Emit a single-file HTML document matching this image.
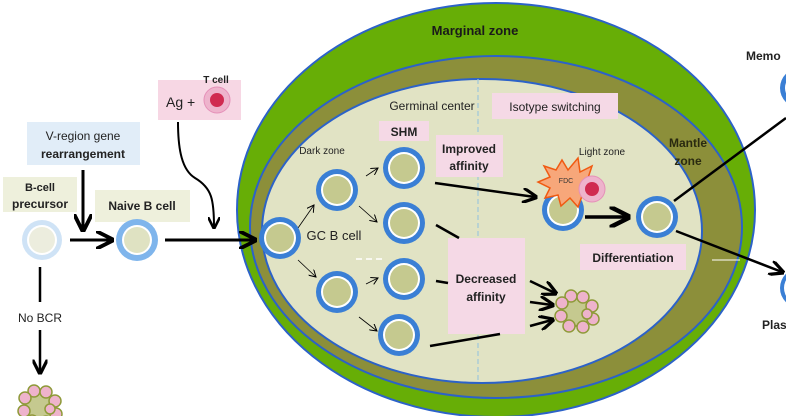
<!DOCTYPE html>
<html><head><meta charset="utf-8"><style>
html,body{margin:0;padding:0;background:#fff;}
svg{display:block;font-family:"Liberation Sans",sans-serif;}
.b{font-weight:bold;}
</style></head><body>
<svg width="786" height="416" viewBox="0 0 786 416" xmlns="http://www.w3.org/2000/svg">
<defs>
<marker id="ah" markerWidth="6" markerHeight="6" refX="5" refY="3" orient="auto" markerUnits="strokeWidth"><path d="M0,0 L6,3 L0,6" fill="none" stroke="#000" stroke-width="1.3"/></marker>
<marker id="as" markerWidth="8" markerHeight="8" refX="7" refY="4" orient="auto" markerUnits="userSpaceOnUse"><path d="M0,0 L7,4 L0,8" fill="none" stroke="#000" stroke-width="1"/></marker>
<g id="cell"><circle r="21" fill="#3a7fd5"/><circle r="16" fill="#fff"/><circle r="14" fill="#c5c98f"/></g>
<g id="blob"><circle r="15" fill="#c5c98f" stroke="#8f9a3a" stroke-width="2"/>
<g fill="#eeb3cc" stroke="#8f9a3a" stroke-width="1.5"><circle cx="-6" cy="-15" r="6"/><circle cx="6" cy="-14" r="6"/><circle cx="15" cy="-5" r="6"/><circle cx="16" cy="8" r="6"/><circle cx="6" cy="16" r="6"/><circle cx="-8" cy="15" r="6"/><circle cx="-16" cy="5" r="6"/><circle cx="-15" cy="-8" r="6"/><circle cx="10" cy="3" r="5"/></g></g>
</defs>
<ellipse cx="496" cy="210" rx="259" ry="207" fill="#67ae06" stroke="#2c62c8" stroke-width="2"/>
<ellipse cx="496" cy="227" rx="246" ry="171" fill="#8c8f3a" stroke="#2c62c8" stroke-width="2"/>
<ellipse cx="482" cy="231" rx="220" ry="152" fill="#e1e3c4" stroke="#2c62c8" stroke-width="2"/>
<line x1="478" y1="79" x2="478" y2="383" stroke="#9ec7db" stroke-width="1.2" stroke-dasharray="5,3"/>
<text x="475" y="35" font-size="13" class="b" text-anchor="middle" fill="#1a1a1a">Marginal zone</text>
<text x="432" y="110" font-size="12" fill="#222" text-anchor="middle">Germinal center</text>
<rect x="492" y="93" width="126" height="26" fill="#f5d9e6"/>
<text x="555" y="111" font-size="12" fill="#222" text-anchor="middle">Isotype switching</text>
<rect x="379" y="121" width="50" height="20" fill="#f5d9e6"/>
<text x="404" y="136" font-size="12" class="b" fill="#222" text-anchor="middle">SHM</text>
<rect x="436" y="135" width="67" height="42" fill="#f5d9e6"/>
<text x="469" y="153" font-size="12" class="b" fill="#222" text-anchor="middle">Improved</text>
<text x="469" y="170" font-size="12" class="b" fill="#222" text-anchor="middle">affinity</text>
<text x="322" y="154" font-size="10" fill="#222" text-anchor="middle">Dark zone</text>
<text x="602" y="155" font-size="10" fill="#222" text-anchor="middle">Light zone</text>
<text x="688" y="147" font-size="12" class="b" fill="#2a2a10" text-anchor="middle">Mantle</text>
<text x="688" y="165" font-size="12" class="b" fill="#2a2a10" text-anchor="middle">zone</text>
<text x="334" y="240" font-size="13" fill="#222" text-anchor="middle">GC B cell</text>
<line x1="356" y1="259" x2="382" y2="259" stroke="#fff" stroke-width="1.5" stroke-dasharray="6,4"/>
<rect x="448" y="238" width="77" height="96" fill="#f5d9e6"/>
<text x="486" y="283" font-size="12" class="b" fill="#222" text-anchor="middle">Decreased</text>
<text x="486" y="301" font-size="12" class="b" fill="#222" text-anchor="middle">affinity</text>
<rect x="580" y="244" width="106" height="26" fill="#f5d9e6"/>
<text x="633" y="262" font-size="12" class="b" fill="#222" text-anchor="middle">Differentiation</text>
<line x1="712" y1="260" x2="740" y2="260" stroke="#fff" stroke-width="1"/>
<g stroke="#000" stroke-width="0.8" marker-end="url(#as)">
<line x1="298" y1="228" x2="314" y2="205"/>
<line x1="359" y1="206" x2="377" y2="222"/>
<line x1="366" y1="176" x2="378" y2="168"/>
<line x1="298" y1="260" x2="316" y2="277"/>
<line x1="366" y1="284" x2="378" y2="278"/>
<line x1="359" y1="317" x2="377" y2="331"/>
</g>
<g stroke="#000" stroke-width="2.5" fill="none">
<line x1="435" y1="183" x2="535" y2="197" marker-end="url(#ah)"/>
<line x1="436" y1="225" x2="459" y2="238"/>
<line x1="436" y1="281" x2="448" y2="283"/>
<line x1="530" y1="281" x2="555" y2="293" marker-end="url(#ah)"/>
<line x1="530" y1="302" x2="552" y2="305" marker-end="url(#ah)"/>
<line x1="530" y1="326" x2="552" y2="320" marker-end="url(#ah)"/>
<line x1="430" y1="346" x2="500" y2="334"/>
<line x1="585" y1="217" x2="627" y2="217" stroke-width="3.5" marker-end="url(#ah)"/>
<line x1="674" y1="201" x2="786" y2="118"/>
<line x1="676" y1="231" x2="782" y2="272" marker-end="url(#ah)"/>
<line x1="165" y1="240" x2="250" y2="240" stroke-width="3"/>
<line x1="70" y1="240" x2="111" y2="240" stroke-width="3" marker-end="url(#ah)"/>
<line x1="83" y1="170" x2="83" y2="229" stroke-width="3" marker-end="url(#ah)"/>
<line x1="40" y1="267" x2="40" y2="302" stroke-width="2.5"/>
<line x1="40" y1="330" x2="40" y2="372" stroke-width="2.5" marker-end="url(#ah)"/>
<path d="M178,122 C178,150 182,170 195,178 C212,188 214,200 214,227" stroke-width="2" marker-end="url(#ah)"/>
<line x1="250" y1="240" x2="254" y2="240" stroke-width="3" marker-end="url(#ah)"/>
</g>
<use href="#cell" x="280" y="238"/>
<use href="#cell" x="337" y="190"/>
<use href="#cell" x="404" y="168"/>
<use href="#cell" x="404" y="223"/>
<use href="#cell" x="337" y="292"/>
<use href="#cell" x="404" y="279"/>
<use href="#cell" x="399" y="335"/>
<use href="#cell" x="657" y="217"/>
<use href="#cell" x="563" y="210"/>
<polygon points="562,160 568,170 578,158 580,172 592,166 588,178 600,182 588,188 594,198 582,196 578,207 570,198 561,206 558,195 545,198 550,188 538,182 550,177 544,166 556,170" fill="#f7a77a" stroke="#f05a12" stroke-width="1.5"/>
<text x="566" y="183" font-size="7" fill="#333" text-anchor="middle">FDC</text>
<circle cx="592" cy="189" r="13" fill="#eeb3cc" stroke="#e590b8" stroke-width="1"/>
<circle cx="592" cy="189" r="7" fill="#d02a50"/>
<use href="#blob" x="577" y="311"/>
<use href="#blob" x="40" y="406"/>
<rect x="27" y="122" width="113" height="43" fill="#e1edf8"/>
<text x="83" y="140" font-size="12" fill="#222" text-anchor="middle">V-region gene</text>
<text x="83" y="158" font-size="12" class="b" fill="#222" text-anchor="middle">rearrangement</text>
<rect x="3" y="177" width="74" height="35" fill="#eef0dc"/>
<text x="40" y="191" font-size="11" class="b" fill="#222" text-anchor="middle">B-cell</text>
<text x="40" y="208" font-size="12" class="b" fill="#222" text-anchor="middle">precursor</text>
<rect x="95" y="190" width="95" height="32" fill="#eef0dc"/>
<text x="142" y="210" font-size="12" class="b" fill="#222" text-anchor="middle">Naive B cell</text>
<circle cx="42" cy="240" r="20" fill="#cfe3f6"/><circle cx="42" cy="240" r="15" fill="#fff"/><circle cx="42" cy="240" r="13" fill="#ecedde"/>
<circle cx="137" cy="240" r="21" fill="#7fb5ec"/><circle cx="137" cy="240" r="15" fill="#fff"/><circle cx="137" cy="240" r="13" fill="#dfe2c2"/>
<text x="40" y="322" font-size="12" fill="#222" text-anchor="middle">No BCR</text>
<rect x="158" y="80" width="83" height="40" fill="#f7d7e4"/>
<text x="166" y="107" font-size="14" fill="#222">Ag +</text>
<text x="216" y="83" font-size="10" class="b" fill="#222" text-anchor="middle">T cell</text>
<circle cx="217" cy="100" r="13" fill="#eeb3cc" stroke="#e590b8" stroke-width="1"/>
<circle cx="217" cy="100" r="7" fill="#d02a50"/>
<text x="746" y="60" font-size="12" class="b" fill="#222">Memo</text>
<circle cx="800" cy="88" r="20" fill="#3a7fd5"/><circle cx="800" cy="88" r="15" fill="#fff"/>
<circle cx="800" cy="288" r="20" fill="#3a7fd5"/><circle cx="800" cy="288" r="16" fill="#fff"/>
<text x="762" y="329" font-size="12" class="b" fill="#222">Plas</text>
</svg>
</body></html>
